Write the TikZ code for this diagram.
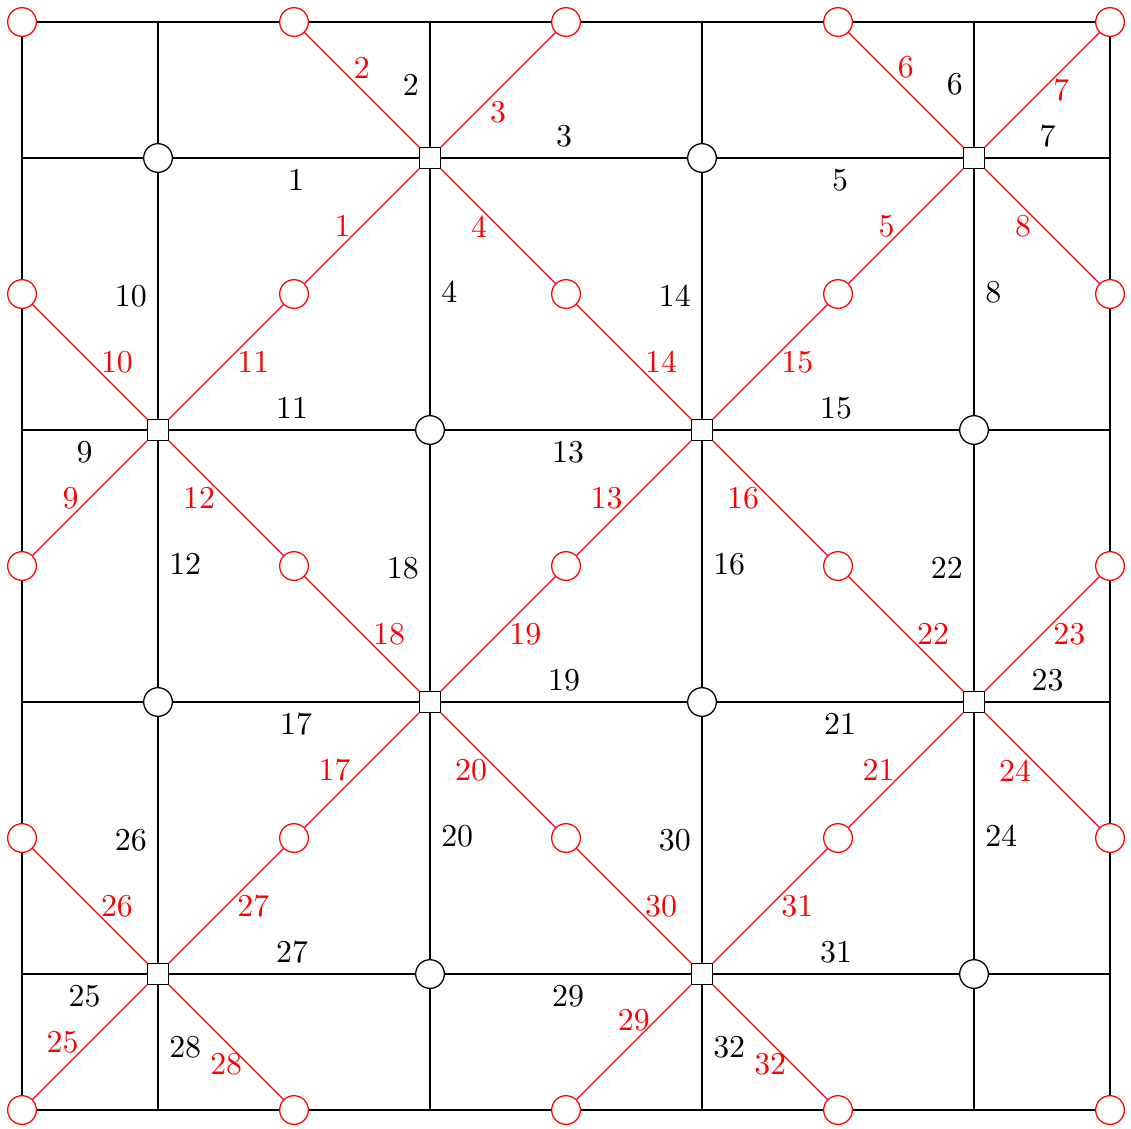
\documentclass[tikz,border=0pt]{standalone}
\usepackage{tikz}
\usetikzlibrary{backgrounds}
\tikzset{
  rnode/.style={circle, draw=red, fill=white, minimum size=9pt, inner sep=0pt},
  cnode/.style={circle, draw, fill=white, minimum size=9pt, inner sep=0pt},
  snode/.style={rectangle, draw, fill=white, minimum size=6.5pt, inner sep=0pt},
  redge/.style={red},
}
\begin{document}
\begin{tikzpicture}[x=1.5cm, y=-1.5cm]
  \useasboundingbox (-0.1618,-0.1618) rectangle (8.1544,8.1324);
  % Vertices
  \foreach \i in {0,2,4,6,8}
    \foreach \j in {0,2,4,6,8}
      \node[rnode] (r\i\j) at (\i,\j) {};
  \foreach \i/\j in {1/1,5/1,3/3,7/3,1/5,5/5,3/7,7/7}
    \node[cnode] (c\i\j) at (\i,\j) {};
  \foreach \i/\j in {3/1,7/1,1/3,5/3,3/5,7/5,1/7,5/7}
    \node[snode] (s\i\j) at (\i,\j) {};
  \foreach \k in {1,3,5,7} {
    \coordinate (g\k0) at (\k,0); \coordinate (g\k8) at (\k,8);
    \coordinate (g0\k) at (0,\k); \coordinate (g8\k) at (8,\k);
  }
  % Frame and loose ends
  \begin{scope}[on background layer]
    \draw (r00.center) rectangle (r88.center);
  \end{scope}
  \draw (c11) -- (g10) (c11) -- (g01) (c51) -- (g50) (c73) -- (g83)
        (c15) -- (g05) (c37) -- (g38) (c77) -- (g78) (c77) -- (g87);
  % Black edges
  \draw (s31) -- node[below]{1} (c11) (s31) -- node[left]{2} (g30)
        (s31) -- node[above]{3} (c51) (s31) -- node[right]{4} (c33);
  \draw (s71) -- node[below]{5} (c51) (s71) -- node[left]{6} (g70)
        (s71) -- node[above]{7} (g81) (s71) -- node[right]{8} (c73);
  \draw (s13) -- node[below]{9} (g03) (s13) -- node[left]{10} (c11)
        (s13) -- node[above]{11} (c33) (s13) -- node[right]{12} (c15);
  \draw (s53) -- node[below]{13} (c33) (s53) -- node[left]{14} (c51)
        (s53) -- node[above]{15} (c73) (s53) -- node[right]{16} (c55);
  \draw (s35) -- node[below]{17} (c15) (s35) -- node[left]{18} (c33)
        (s35) -- node[above]{19} (c55) (s35) -- node[right]{20} (c37);
  \draw (s75) -- node[below]{21} (c55) (s75) -- node[left]{22} (c73)
        (s75) -- node[above]{23} (g85) (s75) -- node[right]{24} (c77);
  \draw (s17) -- node[below]{25} (g07) (s17) -- node[left]{26} (c15)
        (s17) -- node[above]{27} (c37) (s17) -- node[right]{28} (g18);
  \draw (s57) -- node[below]{29} (c37) (s57) -- node[left]{30} (c55)
        (s57) -- node[above]{31} (c77) (s57) -- node[right]{32} (g58);
  % Red edges
  \draw[redge] (s31) -- node[left]{1} (r22) (s31) -- node[above]{2} (r20)
               (s31) -- node[below]{3} (r40) (s31) -- node[left]{4} (r42);
  \draw[redge] (s71) -- node[left]{5} (r62) (s71) -- node[above]{6} (r60)
               (s71) -- node[right]{7} (r80) (s71) -- node[left]{8} (r82);
  \draw[redge] (s13) -- node[left]{9} (r04) (s13) -- node[right]{10} (r02)
               (s13) -- node[right]{11} (r22) (s13) -- node[left]{12} (r24);
  \draw[redge] (s53) -- node[left]{13} (r44) (s53) -- node[right]{14} (r42)
               (s53) -- node[right]{15} (r62) (s53) -- node[left]{16} (r64);
  \draw[redge] (s35) -- node[left]{17} (r26) (s35) -- node[right]{18} (r24)
               (s35) -- node[right]{19} (r44) (s35) -- node[left]{20} (r46);
  \draw[redge] (s75) -- node[left]{21} (r66) (s75) -- node[right]{22} (r64)
               (s75) -- node[right]{23} (r84) (s75) -- node[left]{24} (r86);
  \draw[redge] (s17) -- node[left]{25} (r08) (s17) -- node[right]{26} (r06)
               (s17) -- node[right]{27} (r26) (s17) -- node[below]{28} (r28);
  \draw[redge] (s57) -- node[above]{29} (r48) (s57) -- node[right]{30} (r46)
               (s57) -- node[right]{31} (r66) (s57) -- node[below]{32} (r68);
\end{tikzpicture}
\end{document}
